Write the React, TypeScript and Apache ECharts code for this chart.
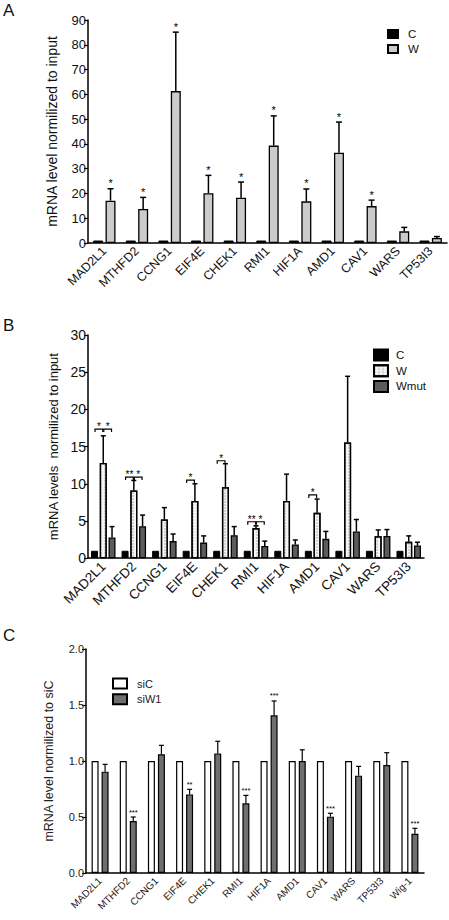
import React, { useEffect, useRef } from 'react';
import * as echarts from 'echarts';

const FONT = '"Liberation Sans", Arial, sans-serif';

// ---------- Panel A ----------
const genesA = ['MAD2L1', 'MTHFD2', 'CCNG1', 'EIF4E', 'CHEK1', 'RMI1', 'HIF1A', 'AMD1', 'CAV1', 'WARS', 'TP53I3'];
const aC = [1, 1, 1, 1, 1, 1, 1, 1, 1, 1, 1];
const aW = [17.1, 13.7, 61.3, 20.1, 18.3, 39.3, 16.8, 36.4, 14.9, 4.7, 2.0];
const aWErr = [21.9, 18.4, 85.1, 27.3, 24.6, 51.3, 21.8, 48.8, 17.3, 6.3, 2.6];
const aStars = ['*', '*', '*', '*', '*', '*', '*', '*', '*', '', ''];
const aTicks = [0, 10, 20, 30, 40, 50, 60, 70, 80, 90];

// ---------- Panel B ----------
const genesB = ['MAD2L1', 'MTHFD2', 'CCNG1', 'EIF4E', 'CHEK1', 'RMI1', 'HIF1A', 'AMD1', 'CAV1', 'WARS', 'TP53I3'];
const bC = [1, 1, 1, 1, 1, 1, 1, 1, 1, 1, 1];
const bW = [12.8, 9.1, 5.2, 7.7, 9.55, 4.05, 7.7, 6.1, 15.55, 2.95, 2.2];
const bWErr = [16.45, 10.45, 6.8, 10.0, 12.7, 4.35, 11.3, 7.95, 24.45, 3.8, 3.0];
const bMut = [2.8, 4.3, 2.3, 2.1, 3.1, 1.65, 1.85, 2.6, 3.6, 3.0, 1.7];
const bMutErr = [4.25, 5.8, 3.25, 3.0, 4.25, 2.3, 2.45, 3.6, 5.2, 3.85, 2.15];
// [category index, left series, right series, level, label]
const bBrackets: [number, number, number, number, string][] = [
  [0, 0, 1, 17.35, '*'],
  [0, 1, 2, 17.35, '*'],
  [1, 0, 1, 10.9, '**'],
  [1, 1, 2, 10.9, '*'],
  [3, 0, 1, 10.5, '*'],
  [4, 0, 1, 13.1, '*'],
  [5, 0, 1, 4.9, '**'],
  [5, 1, 2, 4.9, '*'],
  [7, 0, 1, 8.5, '*'],
];

// ---------- Panel C ----------
const genesC = ['MAD2L1', 'MTHFD2', 'CCNG1', 'EIF4E', 'CHEK1', 'RMI1', 'HIF1A', 'AMD1', 'CAV1', 'WARS', 'TP53I3', 'Wig-1'];
const cSiC = [1, 1, 1, 1, 1, 1, 1, 1, 1, 1, 1, 1];
const cSiW = [0.905, 0.464, 1.06, 0.702, 1.068, 0.622, 1.408, 1.0, 0.503, 0.869, 0.964, 0.351];
const cSiWErr = [0.97, 0.5, 1.14, 0.747, 1.176, 0.693, 1.536, 1.1, 0.533, 0.952, 1.074, 0.399];
const cStars = ['', '***', '', '**', '', '***', '***', '', '***', '', '', '***'];

function errorSeries(values: number[], tops: number[], offset: number, capW: number, lw: number,
  stars: string[] | null, starSize: number, starGap: number) {
  return {
    type: 'custom',
    z: 5,
    silent: true,
    itemStyle: { color: '#000' },
    encode: { x: 0, y: [1, 2] },
    data: values.map((v, i) => [i, v, tops[i]]),
    renderItem: (params: any, api: any) => {
      const i = params.dataIndex;
      const cat = api.value(0);
      const b = api.coord([cat, api.value(1)]);
      const t = api.coord([cat, api.value(2)]);
      const x = b[0] + offset;
      const children: any[] = [
        { type: 'line', shape: { x1: x, y1: b[1], x2: x, y2: t[1] }, style: { stroke: '#000', lineWidth: lw } },
        { type: 'line', shape: { x1: x - capW / 2, y1: t[1], x2: x + capW / 2, y2: t[1] }, style: { stroke: '#000', lineWidth: lw } },
      ];
      if (stars && stars[i]) {
        children.push({
          type: 'text', x, y: t[1] - starGap,
          style: { text: stars[i], fontSize: starSize, fontFamily: FONT, fill: '#000', align: 'center', verticalAlign: 'bottom' },
        });
      }
      return { type: 'group', children };
    },
  };
}

function baseAxes(cats: string[], max: number, interval: number, catFont: number, valFont: number,
  name: string, nameFont: number, nameGap: number, fmt: (v: number) => string, color: string) {
  return {
    xAxis: {
      type: 'category',
      data: cats,
      axisLine: { lineStyle: { color: '#000', width: 1.5 } },
      axisTick: { alignWithLabel: true, length: 4, lineStyle: { color: '#000', width: 1.2 } },
      axisLabel: { rotate: 45, interval: 0, fontSize: catFont, fontFamily: FONT, color, margin: 6 },
    },
    yAxis: {
      type: 'value',
      min: 0,
      max,
      interval,
      name,
      nameLocation: 'middle',
      nameRotate: 90,
      nameGap,
      nameTextStyle: { fontSize: nameFont, fontFamily: FONT, color },
      axisLine: { show: true, lineStyle: { color: '#000', width: 1.5 } },
      axisTick: { show: true, length: 4, lineStyle: { color: '#000', width: 1.2 } },
      axisLabel: { fontSize: valFont, fontFamily: FONT, color, margin: 2, formatter: fmt },
      splitLine: { show: false },
    },
  };
}

function panelLabel(t: string, top: number) {
  return { type: 'text', left: 3, top, style: { text: t, fontSize: 17, fontFamily: FONT, fill: '#111' } };
}

function optionA() {
  const w = 10, gap = 0.24;
  const step = w * (1 + gap);
  return {
    animation: false,
    grid: { left: 88, right: 2, top: 20, height: 223 },
    ...baseAxes(genesA, aTicks[aTicks.length - 1], aTicks[1] - aTicks[0], 12.5, 13,
      'mRNA level normilized to input', 14, 29, (v: number) => String(v), '#111'),
    legend: {
      orient: 'vertical', left: 387, top: 28, padding: 0, itemWidth: 10, itemHeight: 8, itemGap: 3,
      icon: 'rect',
      textStyle: { fontSize: 11.5, fontFamily: FONT, color: '#111', padding: [0, 0, 0, 5] },
      data: ['C', 'W'],
    },
    graphic: [panelLabel('A', 2)],
    series: [
      { name: 'C', type: 'bar', data: aC, barWidth: w, barGap: gap * 100 + '%',
        itemStyle: { color: '#000', borderColor: '#000', borderWidth: 1 } },
      { name: 'W', type: 'bar', data: aW, barWidth: w, barGap: gap * 100 + '%',
        itemStyle: { color: '#cbcbcb', borderColor: '#000', borderWidth: 1.3 } },
      errorSeries(aW, aWErr, step / 2, 6, 1.5, aStars, 11, 0),
    ],
  };
}

function optionB() {
  const w = 7, gap = 0.25;
  const step = w * (1 + gap);
  const offs = [-step, 0, step];
  return {
    animation: false,
    grid: { left: 88, right: 25, top: 35, height: 224 },
    ...baseAxes(genesB, 30, 5, 13.5, 14, 'mRNA levels  normilized to input', 13, 25, (v: number) => String(v), '#111'),
    legend: {
      orient: 'vertical', left: 373, top: 48.5, padding: 0, itemWidth: 14, itemHeight: 11, itemGap: 2.7,
      icon: 'rect',
      textStyle: { fontSize: 11.5, fontFamily: FONT, color: '#111', padding: [0, 0, 0, 3] },
      data: ['C', 'W', 'Wmut'],
    },
    graphic: [panelLabel('B', 17)],
    series: [
      { name: 'C', type: 'bar', data: bC, barWidth: w, barGap: gap * 100 + '%',
        itemStyle: { color: '#000', borderColor: '#000', borderWidth: 1 } },
      { name: 'W', type: 'bar', data: bW, barWidth: w, barGap: gap * 100 + '%',
        itemStyle: {
          color: '#f4f4f4', borderColor: '#000', borderWidth: 1.3,
          decal: { symbol: 'circle', symbolSize: 0.7, dashArrayX: [[2, 2]], dashArrayY: [2, 1], color: 'rgba(0,0,0,0.35)', rotation: 0 },
        } },
      { name: 'Wmut', type: 'bar', data: bMut, barWidth: w, barGap: gap * 100 + '%',
        itemStyle: { color: '#5c5c5c', borderColor: '#000', borderWidth: 1.3 } },
      errorSeries(bW, bWErr, offs[1], 5, 1.5, null, 8, 0),
      errorSeries(bMut, bMutErr, offs[2], 5, 1.5, null, 8, 0),
      {
        type: 'custom',
        z: 6,
        silent: true,
        itemStyle: { color: '#000' },
        encode: { x: 0, y: 1 },
        data: bBrackets.map((b) => [b[0], b[3]]),
        renderItem: (params: any, api: any) => {
          const br = bBrackets[params.dataIndex];
          const c = api.coord([api.value(0), api.value(1)]);
          const x1 = c[0] + offs[br[1]] + 0.5;
          const x2 = c[0] + offs[br[2]] - 0.5;
          const y = c[1];
          return {
            type: 'group',
            children: [
              { type: 'polyline', shape: { points: [[x1, y + 3], [x1, y], [x2, y], [x2, y + 3]] },
                style: { stroke: '#000', lineWidth: 1.2, fill: 'none' } },
              { type: 'text', x: (x1 + x2) / 2, y: y + 2.5,
                style: { text: br[4], fontSize: 10, fontFamily: FONT, fill: '#000', align: 'center', verticalAlign: 'bottom' } },
            ],
          };
        },
      },
    ],
  };
}

function optionC() {
  const w = 7, gap = 0.43;
  const step = w * (1 + gap);
  return {
    animation: false,
    grid: { left: 86, right: 25, top: 39, height: 224 },
    ...baseAxes(genesC, 2, 0.5, 10, 11, 'mRNA level normilized to siC', 12.5, 31, (v: number) => v.toFixed(1), '#222'),
    legend: {
      orient: 'vertical', left: 112, top: 67.5, padding: 0, itemWidth: 14, itemHeight: 10, itemGap: 3.7,
      icon: 'rect',
      textStyle: { fontSize: 11, fontFamily: FONT, color: '#222', padding: [0, 0, 0, 5] },
      data: ['siC', 'siW1'],
    },
    graphic: [panelLabel('C', 17)],
    series: [
      { name: 'siC', type: 'bar', data: cSiC, barWidth: w, barGap: gap * 100 + '%',
        itemStyle: { color: '#fff', borderColor: '#000', borderWidth: 1.2 } },
      { name: 'siW1', type: 'bar', data: cSiW, barWidth: w, barGap: gap * 100 + '%',
        itemStyle: { color: '#6f6f6f', borderColor: '#000', borderWidth: 1.2 } },
      errorSeries(cSiW, cSiWErr, step / 2, 5, 1.2, cStars, 7.5, 1),
    ],
  };
}

function Chart({ top, height, option }: { top: number; height: number; option: () => any }) {
  const ref = useRef<HTMLDivElement>(null);
  useEffect(() => {
    if (!ref.current) return;
    const chart = echarts.init(ref.current, null, { renderer: 'svg' });
    chart.setOption(option());
    return () => chart.dispose();
  }, [option]);
  return <div ref={ref} style={{ position: 'absolute', left: 0, top, width: 449, height }} />;
}

export default function App() {
  return (
    <div style={{ position: 'absolute', left: 0, top: 0, width: 449, height: 920, background: '#fff', overflow: 'hidden' }}>
      <Chart top={0} height={300} option={optionA} />
      <Chart top={300} height={310} option={optionB} />
      <Chart top={610} height={310} option={optionC} />
    </div>
  );
}
